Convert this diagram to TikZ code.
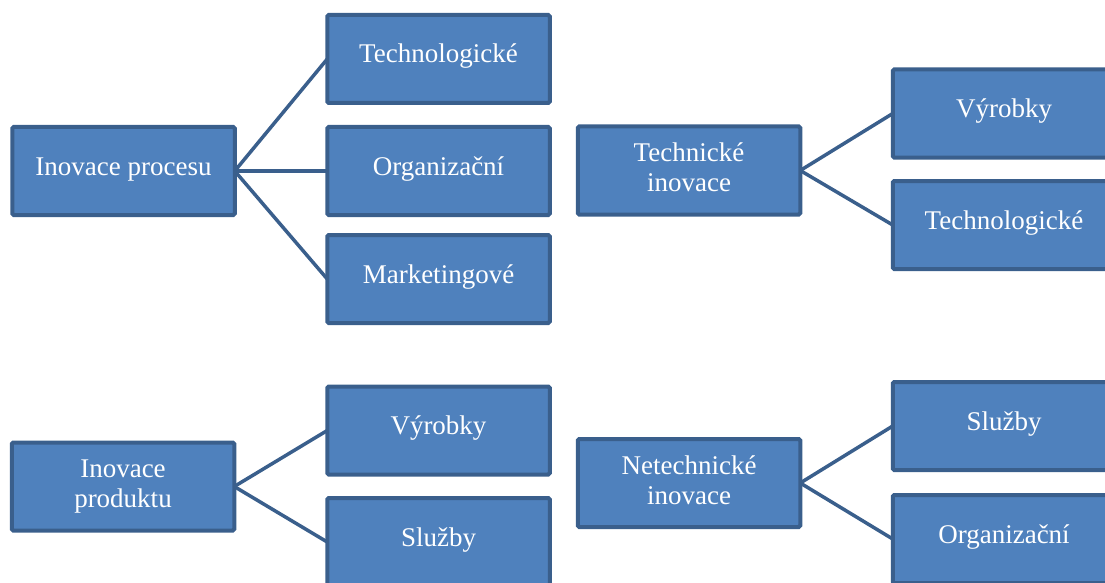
\documentclass[tikz,border=0pt]{standalone}
\usepackage{fontspec}
\setmainfont{Liberation Serif}
\definecolor{boxfill}{HTML}{4F81BD}
\definecolor{boxline}{HTML}{3A5F8C}
\tikzset{
  onebox/.style={draw=boxline, line width=4pt, fill=boxfill, rounded corners=1.5pt,
    minimum width=222.5pt, minimum height=88pt, outer sep=0pt, inner sep=0pt,
    text=white, font=\fontsize{27}{30}\selectfont, text height=17pt, text depth=9pt},
  twobox/.style={onebox, text height=, text depth=},
  conn/.style={draw=boxline, line width=3.5pt}
}
\newcommand{\twoline}[2]{\begin{tabular}{@{}c@{}}#1\\#2\end{tabular}}
\begin{document}
\begin{tikzpicture}[x=1pt,y=-1pt]
\useasboundingbox (0,0) rectangle (1105,583);
\clip (0,0) rectangle (1105,583);
% group 1
\node[onebox] (ip) at (123.5,171) {Inovace procesu};
\node[onebox] (t1) at (438.5,59) {Technologické};
\node[onebox] (o1) at (438.5,171) {Organizační};
\node[onebox] (m1) at (438.5,279) {Marketingové};
% group 2
\node[twobox] (ti) at (689,170.5) {\twoline{Technické}{inovace}};
\node[onebox] (v1) at (1004,113.5) {Výrobky};
\node[onebox] (t2) at (1004,225) {Technologické};
% group 3
\node[twobox] (pr) at (123,486.5) {\twoline{Inovace}{produktu}};
\node[onebox] (v2) at (438.5,430.5) {Výrobky};
\node[onebox] (s1) at (438.5,542) {Služby};
% group 4
\node[twobox] (ni) at (689,483) {\twoline{Netechnické}{inovace}};
\node[onebox] (s2) at (1004,426) {Služby};
\node[onebox] (o2) at (1004,539) {Organizační};
% connectors
\draw[conn] (ip.east) -- (t1.west);
\draw[conn] (ip.east) -- (o1.west);
\draw[conn] (ip.east) -- (m1.west);
\draw[conn] (ti.east) -- (v1.west);
\draw[conn] (ti.east) -- (t2.west);
\draw[conn] (pr.east) -- (v2.west);
\draw[conn] (pr.east) -- (s1.west);
\draw[conn] (ni.east) -- (s2.west);
\draw[conn] (ni.east) -- (o2.west);
\end{tikzpicture}
\end{document}
